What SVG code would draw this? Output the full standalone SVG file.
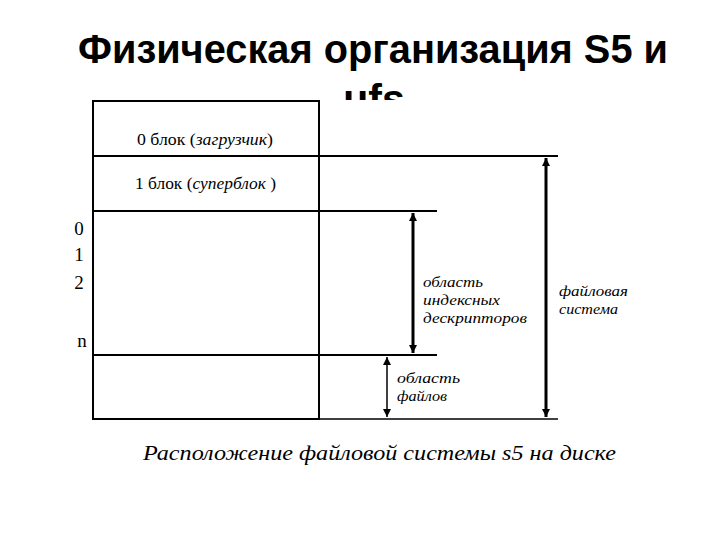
<svg xmlns="http://www.w3.org/2000/svg" width="720" height="540" viewBox="0 0 720 540">
<style>
.title{font-family:"Liberation Sans",Arial,sans-serif;font-weight:bold;font-size:41px;fill:#000}
.t{font-family:"Liberation Serif","Times New Roman",serif;font-size:17px;fill:#000}
.s{font-family:"Liberation Serif","Times New Roman",serif;font-size:15.5px;font-style:italic;fill:#000}
.n{font-family:"Liberation Serif","Times New Roman",serif;font-size:19px;fill:#000}
.i{font-style:italic}
.cap{font-family:"Liberation Serif","Times New Roman",serif;font-style:italic;font-size:21px;fill:#000}
.ln{stroke:#000;stroke-width:2;fill:none}
.thin{stroke:#000;stroke-width:1.5;fill:none}
.thick{stroke:#000;stroke-width:3;fill:none}
</style>
<defs>
<marker id="ah" viewBox="0 0 10 10" refX="10" refY="5" markerWidth="8" markerHeight="8" markerUnits="userSpaceOnUse" orient="auto-start-reverse">
<path d="M0,0 L10,5 L0,10 z" fill="#000"/>
</marker>
</defs>
<rect width="720" height="540" fill="#fff"/>
<text class="title" x="78" y="63" textLength="590" lengthAdjust="spacingAndGlyphs">Физическая организация S5 и</text>
<text class="title" x="374" y="113" text-anchor="middle">ufs</text>
<rect x="60" y="100" width="610" height="380" fill="#fff"/>
<g id="disk">
<rect x="93" y="101" width="226" height="318" class="ln"/>
<line x1="93" y1="156" x2="558" y2="156" class="ln"/>
<line x1="93" y1="211" x2="437" y2="211" class="ln"/>
<line x1="93" y1="355" x2="437" y2="355" class="ln"/>
<line x1="319" y1="419" x2="558" y2="419" class="thin"/>
</g>
<g id="block0"><text class="t" x="137" y="145" textLength="136" lengthAdjust="spacingAndGlyphs">0 блок (<tspan class="i">загрузчик</tspan>)</text></g>
<g id="block1"><text class="t" x="135" y="189" textLength="141" lengthAdjust="spacingAndGlyphs">1 блок (<tspan class="i">суперблок</tspan> )</text></g>
<g id="indices">
<text class="n" x="79" y="235" text-anchor="middle">0</text>
<text class="n" x="79" y="261" text-anchor="middle">1</text>
<text class="n" x="79" y="289" text-anchor="middle">2</text>
<text class="n" x="82" y="347" text-anchor="middle">n</text>
</g>
<g id="connectors">
<line x1="413" y1="213" x2="413" y2="353" class="thick" marker-start="url(#ah)" marker-end="url(#ah)"/>
<line x1="387" y1="357" x2="387" y2="417" class="thin" marker-start="url(#ah)" marker-end="url(#ah)"/>
<line x1="546" y1="158" x2="546" y2="417" class="thick" marker-start="url(#ah)" marker-end="url(#ah)"/>
</g>
<g id="inode-label">
<text class="s" x="423" y="287" textLength="60" lengthAdjust="spacingAndGlyphs">область</text>
<text class="s" x="423" y="305" textLength="77" lengthAdjust="spacingAndGlyphs">индексных</text>
<text class="s" x="423" y="323" textLength="104" lengthAdjust="spacingAndGlyphs">дескрипторов</text>
</g>
<g id="files-label">
<text class="s" x="397" y="383" textLength="63" lengthAdjust="spacingAndGlyphs">область</text>
<text class="s" x="397" y="401" textLength="50" lengthAdjust="spacingAndGlyphs">файлов</text>
</g>
<g id="fs-label">
<text class="s" x="559" y="296" textLength="69" lengthAdjust="spacingAndGlyphs">файловая</text>
<text class="s" x="559" y="314" textLength="59" lengthAdjust="spacingAndGlyphs">система</text>
</g>
<text class="cap" x="143" y="460" textLength="473" lengthAdjust="spacingAndGlyphs">Расположение файловой системы s5 на диске</text>
</svg>
